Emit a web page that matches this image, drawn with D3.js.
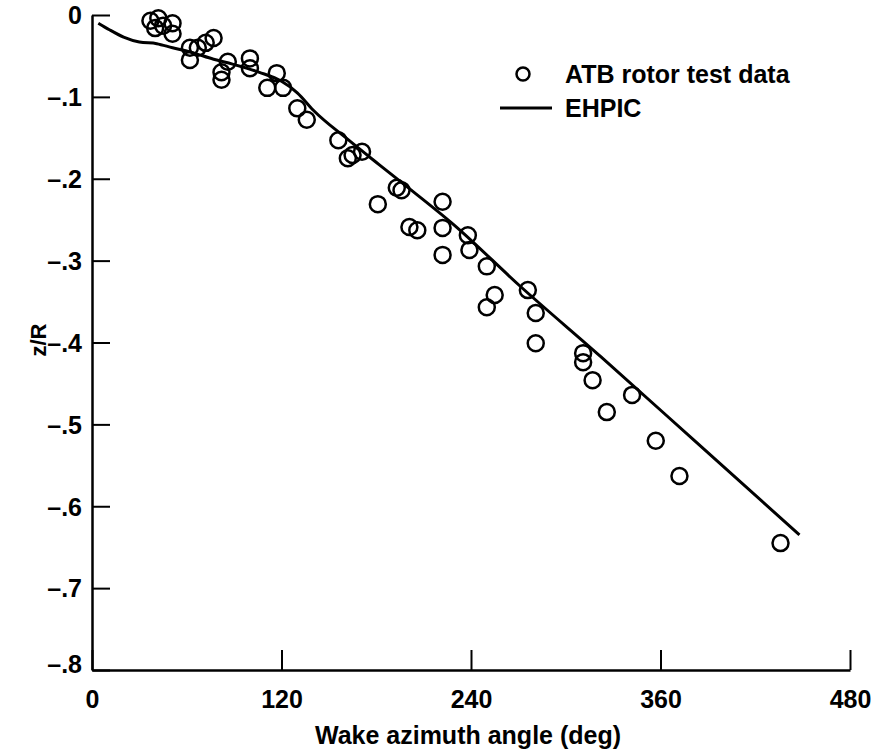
<!DOCTYPE html>
<html>
<head>
<meta charset="utf-8">
<script src="https://cdn.jsdelivr.net/npm/d3@7"></script>
<style>
  html, body { margin: 0; padding: 0; background: #fff; }
  svg { display: block; font-family: "Liberation Sans", Arial, sans-serif; font-weight: bold; }
</style>
</head>
<body>
<svg id="chart" width="878" height="755"></svg>
<script>
// ATB rotor test data (wake azimuth deg, z/R)
var testAzimuth = [37, 42, 40, 45, 51, 51, 62, 62, 67, 72, 77, 86, 82, 82, 100, 100, 117, 111, 121,
    130, 136, 156, 162, 165, 171, 193, 196, 181, 222, 201, 206, 222, 222, 238, 239, 250, 255, 250,
    276, 281, 281, 311, 311, 317, 342, 326, 357, 372, 436];
var testZR = [-0.007, -0.004, -0.016, -0.013, -0.010, -0.023, -0.040, -0.055, -0.040, -0.034, -0.028,
    -0.057, -0.070, -0.079, -0.053, -0.065, -0.071, -0.089, -0.089, -0.114, -0.128, -0.153, -0.175,
    -0.171, -0.167, -0.211, -0.214, -0.231, -0.228, -0.259, -0.263, -0.260, -0.293, -0.269, -0.287,
    -0.307, -0.342, -0.357, -0.336, -0.364, -0.401, -0.413, -0.424, -0.446, -0.464, -0.485, -0.520,
    -0.563, -0.645];

// EHPIC prediction
var ehpicAzimuth = [4, 11, 20, 30, 41, 51, 62, 77, 89, 106, 120, 130, 140, 162, 182, 197, 229, 271, 322, 381, 448];
var ehpicZR = [-0.010, -0.018, -0.027, -0.033, -0.035, -0.040, -0.045, -0.054, -0.060, -0.070, -0.081,
    -0.095, -0.116, -0.152, -0.183, -0.206, -0.256, -0.331, -0.417, -0.519, -0.635];

var xTicks = [0, 120, 240, 360, 480];
var yTicks = [0, -0.1, -0.2, -0.3, -0.4, -0.5, -0.6, -0.7, -0.8];

var svg = d3.select("#chart");

var x = d3.scaleLinear().domain([0, 480]).range([92, 850]);
var y = d3.scaleLinear().domain([0, -0.8]).range([15, 670]);

function fmtY(d) {
    if (d === 0) return "0";
    return "\u2013." + Math.round(-d * 10);
}

// axes
var xAxis = svg.append("g")
    .attr("transform", "translate(0," + y(-0.8) + ")")
    .call(d3.axisBottom(x).tickValues(xTicks).tickSizeInner(-20).tickSizeOuter(0).tickPadding(20)
        .tickFormat(d3.format("d")));
var yAxis = svg.append("g")
    .attr("transform", "translate(" + x(0) + ",0)")
    .call(d3.axisLeft(y).tickValues(yTicks).tickSizeInner(-18).tickSizeOuter(0).tickPadding(10)
        .tickFormat(fmtY));

[xAxis, yAxis].forEach(function(g) {
    g.select(".domain").attr("stroke", "#000").attr("stroke-width", 2.5);
    g.selectAll(".tick line").attr("stroke", "#000").attr("stroke-width", 2);
    g.selectAll(".tick text")
        .attr("fill", "#000")
        .style("font-size", "25px")
        .style("font-weight", "bold")
        .style("font-family", "'Liberation Sans', Arial, sans-serif");
});
yAxis.selectAll(".tick text").attr("dy", "0.35em");
yAxis.select(".tick:last-of-type text").attr("dy", "0.1em");

// axis titles
svg.append("text")
    .attr("x", 468).attr("y", 744)
    .attr("text-anchor", "middle")
    .style("font-size", "25px")
    .text("Wake azimuth angle (deg)");
svg.append("text")
    .attr("transform", "translate(46,340) rotate(-90)")
    .attr("text-anchor", "middle")
    .style("font-size", "22px")
    .text("z/R");

// EHPIC line
var line = d3.line()
    .x(function(d) { return x(d[0]); })
    .y(function(d) { return y(d[1]); })
    .curve(d3.curveMonotoneX);
svg.append("path")
    .datum(d3.zip(ehpicAzimuth, ehpicZR))
    .attr("d", line)
    .attr("fill", "none")
    .attr("stroke", "#000")
    .attr("stroke-width", 3);

// test data circles
svg.append("g").selectAll("circle")
    .data(d3.zip(testAzimuth, testZR))
    .enter().append("circle")
    .attr("cx", function(d) { return x(d[0]); })
    .attr("cy", function(d) { return y(d[1]); })
    .attr("r", 8)
    .attr("fill", "none")
    .attr("stroke", "#000")
    .attr("stroke-width", 2.5);

// legend
var legend = svg.append("g");
legend.append("circle")
    .attr("cx", 523).attr("cy", 74).attr("r", 6.5)
    .attr("fill", "none").attr("stroke", "#000").attr("stroke-width", 2.5);
legend.append("text")
    .attr("x", 565).attr("y", 83)
    .style("font-size", "25px")
    .text("ATB rotor test data");
legend.append("line")
    .attr("x1", 500).attr("x2", 552).attr("y1", 108).attr("y2", 108)
    .attr("stroke", "#000").attr("stroke-width", 3);
legend.append("text")
    .attr("x", 565).attr("y", 117)
    .style("font-size", "25px")
    .text("EHPIC");
</script>
</body>
</html>
